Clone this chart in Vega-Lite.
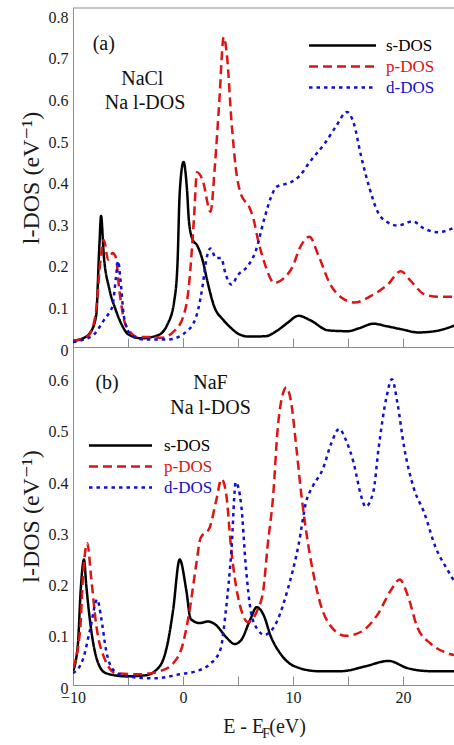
{
  "$schema": "https://vega.github.io/schema/vega-lite/v6.json",
  "padding": {"left": 19, "top": 7, "right": 0, "bottom": 0},
  "background": "white",
  "spacing": 0,
  "bounds": "flush",
  "config": {
    "view": {"stroke": null},
    "font": "Liberation Serif, DejaVu Serif, Liberation Sans, sans-serif",
    "axis": {"grid": false, "labelFlush": false, "domainColor": "#8c8c8c", "tickColor": "#8c8c8c", "domainWidth": 1, "tickWidth": 1, "labelFont": "Liberation Serif, DejaVu Serif, Liberation Sans, sans-serif", "labelFontSize": 16, "labelColor": "#1a1a1a", "titleFont": "Liberation Serif, DejaVu Serif, Liberation Sans, sans-serif", "titleFontWeight": "normal", "titleColor": "#1a1a1a"},
    "legend": {"labelFont": "Liberation Serif, DejaVu Serif, Liberation Sans, sans-serif", "labelFontSize": 17, "padding": 0, "symbolSize": 121, "symbolStrokeWidth": 2.5, "labelOffset": 35, "rowPadding": 3, "labelLimit": 0},
    "text": {"font": "Liberation Serif, DejaVu Serif, Liberation Sans, sans-serif"}
  },
  "resolve": {"legend": {"color": "independent", "strokeDash": "independent"}},
  "datasets": {
    "a": [
      {"o":"s-DOS","E":-10,"v":0.015},{"o":"s-DOS","E":-9,"v":0.022},{"o":"s-DOS","E":-8.4,"v":0.036},{"o":"s-DOS","E":-7.9,"v":0.075},{"o":"s-DOS","E":-7.6,"v":0.245},{"o":"s-DOS","E":-7.45,"v":0.315},{"o":"s-DOS","E":-7.2,"v":0.22},{"o":"s-DOS","E":-6.7,"v":0.14},{"o":"s-DOS","E":-6.1,"v":0.088},{"o":"s-DOS","E":-5.5,"v":0.05},{"o":"s-DOS","E":-5,"v":0.031},{"o":"s-DOS","E":-3.8,"v":0.021},{"o":"s-DOS","E":-2.3,"v":0.028},{"o":"s-DOS","E":-1.4,"v":0.055},{"o":"s-DOS","E":-0.8,"v":0.11},{"o":"s-DOS","E":-0.5,"v":0.2},{"o":"s-DOS","E":-0.3,"v":0.37},{"o":"s-DOS","E":0.05,"v":0.445},{"o":"s-DOS","E":0.36,"v":0.38},{"o":"s-DOS","E":0.55,"v":0.3},{"o":"s-DOS","E":0.9,"v":0.257},{"o":"s-DOS","E":1.27,"v":0.245},{"o":"s-DOS","E":1.8,"v":0.207},{"o":"s-DOS","E":2.2,"v":0.16},{"o":"s-DOS","E":2.8,"v":0.1},{"o":"s-DOS","E":3.7,"v":0.064},{"o":"s-DOS","E":4.4,"v":0.045},{"o":"s-DOS","E":5,"v":0.032},{"o":"s-DOS","E":6,"v":0.025},{"o":"s-DOS","E":7.5,"v":0.026},{"o":"s-DOS","E":8.6,"v":0.04},{"o":"s-DOS","E":9.5,"v":0.058},{"o":"s-DOS","E":10.5,"v":0.075},{"o":"s-DOS","E":11.6,"v":0.064},{"o":"s-DOS","E":13.2,"v":0.04},{"o":"s-DOS","E":15,"v":0.038},{"o":"s-DOS","E":16,"v":0.045},{"o":"s-DOS","E":17.3,"v":0.056},{"o":"s-DOS","E":18.5,"v":0.05},{"o":"s-DOS","E":19.8,"v":0.043},{"o":"s-DOS","E":21.4,"v":0.035},{"o":"s-DOS","E":22.9,"v":0.038},{"o":"s-DOS","E":24.73,"v":0.052},
      {"o":"p-DOS","E":-10,"v":0.015},{"o":"p-DOS","E":-9,"v":0.022},{"o":"p-DOS","E":-8.5,"v":0.03},{"o":"p-DOS","E":-7.9,"v":0.088},{"o":"p-DOS","E":-7.5,"v":0.21},{"o":"p-DOS","E":-7.2,"v":0.257},{"o":"p-DOS","E":-6.8,"v":0.21},{"o":"p-DOS","E":-6.4,"v":0.226},{"o":"p-DOS","E":-6.1,"v":0.215},{"o":"p-DOS","E":-5.8,"v":0.14},{"o":"p-DOS","E":-5.2,"v":0.052},{"o":"p-DOS","E":-4.1,"v":0.024},{"o":"p-DOS","E":-2.6,"v":0.024},{"o":"p-DOS","E":-2,"v":0.022},{"o":"p-DOS","E":-0.9,"v":0.036},{"o":"p-DOS","E":0,"v":0.071},{"o":"p-DOS","E":0.55,"v":0.15},{"o":"p-DOS","E":1,"v":0.31},{"o":"p-DOS","E":1.27,"v":0.42},{"o":"p-DOS","E":1.8,"v":0.4},{"o":"p-DOS","E":2.5,"v":0.325},{"o":"p-DOS","E":2.9,"v":0.435},{"o":"p-DOS","E":3.3,"v":0.59},{"o":"p-DOS","E":3.7,"v":0.745},{"o":"p-DOS","E":4,"v":0.7},{"o":"p-DOS","E":4.4,"v":0.546},{"o":"p-DOS","E":4.8,"v":0.43},{"o":"p-DOS","E":5.3,"v":0.365},{"o":"p-DOS","E":6,"v":0.338},{"o":"p-DOS","E":6.4,"v":0.309},{"o":"p-DOS","E":6.8,"v":0.26},{"o":"p-DOS","E":7.5,"v":0.195},{"o":"p-DOS","E":8.3,"v":0.154},{"o":"p-DOS","E":9.2,"v":0.166},{"o":"p-DOS","E":10,"v":0.195},{"o":"p-DOS","E":10.6,"v":0.237},{"o":"p-DOS","E":11.5,"v":0.265},{"o":"p-DOS","E":12.3,"v":0.221},{"o":"p-DOS","E":13.4,"v":0.15},{"o":"p-DOS","E":14.4,"v":0.119},{"o":"p-DOS","E":15.6,"v":0.107},{"o":"p-DOS","E":17.1,"v":0.123},{"o":"p-DOS","E":18.6,"v":0.15},{"o":"p-DOS","E":19.8,"v":0.182},{"o":"p-DOS","E":20.7,"v":0.159},{"o":"p-DOS","E":22,"v":0.126},{"o":"p-DOS","E":23.2,"v":0.121},{"o":"p-DOS","E":24.73,"v":0.121},
      {"o":"d-DOS","E":-10,"v":0.012},{"o":"d-DOS","E":-9,"v":0.018},{"o":"d-DOS","E":-8.1,"v":0.03},{"o":"d-DOS","E":-7.2,"v":0.064},{"o":"d-DOS","E":-6.7,"v":0.083},{"o":"d-DOS","E":-6.4,"v":0.1},{"o":"d-DOS","E":-6.1,"v":0.166},{"o":"d-DOS","E":-5.9,"v":0.207},{"o":"d-DOS","E":-5.7,"v":0.166},{"o":"d-DOS","E":-5.35,"v":0.07},{"o":"d-DOS","E":-4.7,"v":0.028},{"o":"d-DOS","E":-3.5,"v":0.018},{"o":"d-DOS","E":-1.4,"v":0.018},{"o":"d-DOS","E":0.45,"v":0.04},{"o":"d-DOS","E":1.36,"v":0.088},{"o":"d-DOS","E":1.8,"v":0.15},{"o":"d-DOS","E":2.1,"v":0.207},{"o":"d-DOS","E":2.5,"v":0.237},{"o":"d-DOS","E":3,"v":0.214},{"o":"d-DOS","E":3.45,"v":0.214},{"o":"d-DOS","E":3.9,"v":0.173},{"o":"d-DOS","E":4.4,"v":0.15},{"o":"d-DOS","E":5,"v":0.173},{"o":"d-DOS","E":5.9,"v":0.195},{"o":"d-DOS","E":6.6,"v":0.23},{"o":"d-DOS","E":7.4,"v":0.309},{"o":"d-DOS","E":8,"v":0.36},{"o":"d-DOS","E":8.5,"v":0.385},{"o":"d-DOS","E":9.8,"v":0.396},{"o":"d-DOS","E":10.6,"v":0.411},{"o":"d-DOS","E":11.5,"v":0.444},{"o":"d-DOS","E":12.9,"v":0.49},{"o":"d-DOS","E":13.9,"v":0.53},{"o":"d-DOS","E":14.9,"v":0.565},{"o":"d-DOS","E":15.5,"v":0.54},{"o":"d-DOS","E":16.2,"v":0.458},{"o":"d-DOS","E":16.9,"v":0.387},{"o":"d-DOS","E":17.7,"v":0.325},{"o":"d-DOS","E":18.6,"v":0.3},{"o":"d-DOS","E":19.5,"v":0.292},{"o":"d-DOS","E":20.9,"v":0.302},{"o":"d-DOS","E":21.9,"v":0.285},{"o":"d-DOS","E":23.2,"v":0.276},{"o":"d-DOS","E":24.73,"v":0.288}
    ],
    "b": [
      {"o":"s-DOS","E":-10,"v":0.027},{"o":"s-DOS","E":-9.55,"v":0.081},{"o":"s-DOS","E":-9.3,"v":0.185},{"o":"s-DOS","E":-9,"v":0.245},{"o":"s-DOS","E":-8.8,"v":0.196},{"o":"s-DOS","E":-8.35,"v":0.108},{"o":"s-DOS","E":-7.7,"v":0.042},{"o":"s-DOS","E":-7,"v":0.023},{"o":"s-DOS","E":-5.2,"v":0.017},{"o":"s-DOS","E":-3.4,"v":0.019},{"o":"s-DOS","E":-2.1,"v":0.037},{"o":"s-DOS","E":-1.4,"v":0.081},{"o":"s-DOS","E":-0.9,"v":0.146},{"o":"s-DOS","E":-0.3,"v":0.245},{"o":"s-DOS","E":0.3,"v":0.185},{"o":"s-DOS","E":0.7,"v":0.129},{"o":"s-DOS","E":1.5,"v":0.121},{"o":"s-DOS","E":2.3,"v":0.124},{"o":"s-DOS","E":3,"v":0.117},{"o":"s-DOS","E":3.9,"v":0.094},{"o":"s-DOS","E":4.7,"v":0.08},{"o":"s-DOS","E":5.3,"v":0.088},{"o":"s-DOS","E":6.1,"v":0.127},{"o":"s-DOS","E":6.7,"v":0.152},{"o":"s-DOS","E":7.3,"v":0.138},{"o":"s-DOS","E":8,"v":0.094},{"o":"s-DOS","E":8.9,"v":0.06},{"o":"s-DOS","E":10.1,"v":0.037},{"o":"s-DOS","E":12.3,"v":0.027},{"o":"s-DOS","E":14.4,"v":0.027},{"o":"s-DOS","E":16.5,"v":0.036},{"o":"s-DOS","E":18.7,"v":0.047},{"o":"s-DOS","E":20.4,"v":0.033},{"o":"s-DOS","E":22.5,"v":0.027},{"o":"s-DOS","E":24.73,"v":0.027},
      {"o":"p-DOS","E":-10,"v":0.033},{"o":"p-DOS","E":-9.35,"v":0.108},{"o":"p-DOS","E":-9.1,"v":0.21},{"o":"p-DOS","E":-8.7,"v":0.277},{"o":"p-DOS","E":-8.35,"v":0.21},{"o":"p-DOS","E":-7.9,"v":0.119},{"o":"p-DOS","E":-7.1,"v":0.05},{"o":"p-DOS","E":-6.1,"v":0.023},{"o":"p-DOS","E":-3.9,"v":0.021},{"o":"p-DOS","E":-2.1,"v":0.027},{"o":"p-DOS","E":-0.9,"v":0.042},{"o":"p-DOS","E":0,"v":0.081},{"o":"p-DOS","E":0.6,"v":0.146},{"o":"p-DOS","E":1.2,"v":0.235},{"o":"p-DOS","E":1.6,"v":0.287},{"o":"p-DOS","E":2.4,"v":0.306},{"o":"p-DOS","E":3,"v":0.358},{"o":"p-DOS","E":3.5,"v":0.402},{"o":"p-DOS","E":3.9,"v":0.377},{"o":"p-DOS","E":4.4,"v":0.262},{"o":"p-DOS","E":4.8,"v":0.196},{"o":"p-DOS","E":5.3,"v":0.146},{"o":"p-DOS","E":5.9,"v":0.123},{"o":"p-DOS","E":6.8,"v":0.148},{"o":"p-DOS","E":7.3,"v":0.185},{"o":"p-DOS","E":7.7,"v":0.273},{"o":"p-DOS","E":8.2,"v":0.37},{"o":"p-DOS","E":8.6,"v":0.498},{"o":"p-DOS","E":9.1,"v":0.57},{"o":"p-DOS","E":9.4,"v":0.581},{"o":"p-DOS","E":9.8,"v":0.556},{"o":"p-DOS","E":10.3,"v":0.465},{"o":"p-DOS","E":10.7,"v":0.383},{"o":"p-DOS","E":11.2,"v":0.3},{"o":"p-DOS","E":11.8,"v":0.223},{"o":"p-DOS","E":12.5,"v":0.158},{"o":"p-DOS","E":13.5,"v":0.113},{"o":"p-DOS","E":14.8,"v":0.096},{"o":"p-DOS","E":16.2,"v":0.104},{"o":"p-DOS","E":17.7,"v":0.138},{"o":"p-DOS","E":18.9,"v":0.185},{"o":"p-DOS","E":19.7,"v":0.206},{"o":"p-DOS","E":20.4,"v":0.177},{"o":"p-DOS","E":21.3,"v":0.113},{"o":"p-DOS","E":22.5,"v":0.081},{"o":"p-DOS","E":23.7,"v":0.065},{"o":"p-DOS","E":24.73,"v":0.058},
      {"o":"d-DOS","E":-10,"v":0.023},{"o":"d-DOS","E":-9.1,"v":0.05},{"o":"d-DOS","E":-8.45,"v":0.108},{"o":"d-DOS","E":-7.8,"v":0.167},{"o":"d-DOS","E":-7.45,"v":0.133},{"o":"d-DOS","E":-7,"v":0.069},{"o":"d-DOS","E":-6.4,"v":0.031},{"o":"d-DOS","E":-5.2,"v":0.017},{"o":"d-DOS","E":-2.5,"v":0.013},{"o":"d-DOS","E":-0.3,"v":0.021},{"o":"d-DOS","E":1.2,"v":0.027},{"o":"d-DOS","E":2.4,"v":0.04},{"o":"d-DOS","E":3.4,"v":0.069},{"o":"d-DOS","E":3.9,"v":0.146},{"o":"d-DOS","E":4.4,"v":0.262},{"o":"d-DOS","E":4.8,"v":0.396},{"o":"d-DOS","E":5.3,"v":0.35},{"o":"d-DOS","E":5.7,"v":0.235},{"o":"d-DOS","E":6.2,"v":0.14},{"o":"d-DOS","E":6.8,"v":0.108},{"o":"d-DOS","E":7.4,"v":0.098},{"o":"d-DOS","E":8.6,"v":0.127},{"o":"d-DOS","E":9.5,"v":0.185},{"o":"d-DOS","E":10.5,"v":0.273},{"o":"d-DOS","E":11.2,"v":0.358},{"o":"d-DOS","E":11.8,"v":0.388},{"o":"d-DOS","E":12.7,"v":0.421},{"o":"d-DOS","E":13.5,"v":0.473},{"o":"d-DOS","E":14.2,"v":0.5},{"o":"d-DOS","E":14.8,"v":0.479},{"o":"d-DOS","E":15.5,"v":0.435},{"o":"d-DOS","E":16.2,"v":0.369},{"o":"d-DOS","E":16.6,"v":0.348},{"o":"d-DOS","E":17.3,"v":0.377},{"o":"d-DOS","E":17.8,"v":0.465},{"o":"d-DOS","E":18.5,"v":0.562},{"o":"d-DOS","E":19,"v":0.597},{"o":"d-DOS","E":19.5,"v":0.55},{"o":"d-DOS","E":20.1,"v":0.465},{"o":"d-DOS","E":21,"v":0.383},{"o":"d-DOS","E":21.9,"v":0.338},{"o":"d-DOS","E":23,"v":0.267},{"o":"d-DOS","E":24.1,"v":0.223},{"o":"d-DOS","E":24.73,"v":0.2}
    ]
  },
  "vconcat": [
    {
      "width": 382,
      "height": 339,
      "data": {"name": "a"},
      "layer": [
        {
          "mark": {"type": "line", "interpolate": "monotone", "strokeWidth": 2.5, "clip": true},
          "encoding": {
            "x": {"field": "E", "type": "quantitative", "scale": {"domain": [-10, 24.73], "nice": false, "zero": false},
                  "axis": {"values": [-10, -7.5, -5, -2.5, 0, 2.5, 5, 7.5, 10, 12.5, 15, 17.5, 20, 22.5], "tickSize": -9, "labels": false, "title": null}},
            "y": {"field": "v", "type": "quantitative", "scale": {"domain": [0, 0.815], "nice": false, "zero": false},
                  "axis": {"values": [0, 0.1, 0.2, 0.3, 0.4, 0.5, 0.6, 0.7, 0.8], "labelExpr": "datum.value === 0 ? '0' : format(datum.value, '.1f')", "tickSize": 0, "labelPadding": 5, "labelOffset": 3, "title": "l-DOS (eV⁻¹)", "titleFontSize": 24, "titlePadding": 5}},
            "color": {"field": "o", "type": "nominal", "scale": {"domain": ["s-DOS", "p-DOS", "d-DOS"], "range": ["#000000", "#dc1414", "#1111cc"]},
                      "legend": {"orient": "none", "legendX": 261, "legendY": 29, "title": null, "symbolType": "M-6.09,0H6.09", "encode": {"labels": {"update": {"fill": {"signal": "datum.value === 's-DOS' ? '#000000' : datum.value === 'p-DOS' ? '#dc1414' : '#1111cc'"}}}}}},
            "strokeDash": {"field": "o", "type": "nominal", "scale": {"domain": ["s-DOS", "p-DOS", "d-DOS"], "range": [[1, 0], [9, 5], [3.5, 4]]},
                      "legend": {"orient": "none", "legendX": 261, "legendY": 29, "title": null, "symbolType": "M-6.09,0H6.09", "encode": {"labels": {"update": {"fill": {"signal": "datum.value === 's-DOS' ? '#000000' : datum.value === 'p-DOS' ? '#dc1414' : '#1111cc'"}}}}}}
          }
        },
        {
          "data": {"values": [{"y": 0.815}]},
          "mark": {"type": "rule", "color": "#8c8c8c", "strokeWidth": 1},
          "encoding": {"y": {"field": "y", "type": "quantitative"}}
        },
        {
          "data": {"values": [{"t": "(a)", "E": -7.2, "v": 0.729}, {"t": "NaCl", "E": -3.7, "v": 0.644}, {"t": "Na l-DOS", "E": -3.45, "v": 0.587}]},
          "mark": {"type": "text", "fontSize": 20, "color": "#111111", "align": "center", "baseline": "middle"},
          "encoding": {"x": {"field": "E", "type": "quantitative"}, "y": {"field": "v", "type": "quantitative"}, "text": {"field": "t"}}
        }
      ]
    },
    {
      "width": 382,
      "height": 338,
      "data": {"name": "b"},
      "layer": [
        {
          "mark": {"type": "line", "interpolate": "monotone", "strokeWidth": 2.5, "clip": true},
          "encoding": {
            "x": {"field": "E", "type": "quantitative", "scale": {"domain": [-10, 24.73], "nice": false, "zero": false},
                  "axis": {"values": [-10, -7.5, -5, -2.5, 0, 2.5, 5, 7.5, 10, 12.5, 15, 17.5, 20, 22.5], "tickSize": -9, "labelExpr": "datum.value % 10 === 0 ? datum.label : ''", "labelPadding": 13, "title": "E - E   (eV)", "titleFontSize": 20, "titlePadding": 11}},
            "y": {"field": "v", "type": "quantitative", "scale": {"domain": [0, 0.66], "nice": false, "zero": false},
                  "axis": {"values": [0, 0.1, 0.2, 0.3, 0.4, 0.5, 0.6], "labelExpr": "datum.value === 0 ? '0' : format(datum.value, '.1f')", "tickSize": 0, "labelPadding": 5, "labelOffset": 3, "title": "l-DOS (eV⁻¹)", "titleFontSize": 24, "titlePadding": 5}},
            "color": {"field": "o", "type": "nominal", "scale": {"domain": ["s-DOS", "p-DOS", "d-DOS"], "range": ["#000000", "#dc1414", "#1111cc"]},
                      "legend": {"orient": "none", "legendX": 39, "legendY": 90, "title": null, "symbolType": "M-5.73,0H5.73", "encode": {"labels": {"update": {"fill": {"signal": "datum.value === 's-DOS' ? '#000000' : datum.value === 'p-DOS' ? '#dc1414' : '#1111cc'"}}}}}},
            "strokeDash": {"field": "o", "type": "nominal", "scale": {"domain": ["s-DOS", "p-DOS", "d-DOS"], "range": [[1, 0], [9, 5], [3.5, 4]]},
                      "legend": {"orient": "none", "legendX": 39, "legendY": 90, "title": null, "symbolType": "M-5.73,0H5.73", "encode": {"labels": {"update": {"fill": {"signal": "datum.value === 's-DOS' ? '#000000' : datum.value === 'p-DOS' ? '#dc1414' : '#1111cc'"}}}}}}
          }
        },
        {
          "data": {"values": [{"t": "(b)", "E": -6.9, "v": 0.59}, {"t": "NaF", "E": 2.5, "v": 0.59}, {"t": "Na l-DOS", "E": 2.5, "v": 0.54}]},
          "mark": {"type": "text", "fontSize": 20, "color": "#111111", "align": "center", "baseline": "middle"},
          "encoding": {"x": {"field": "E", "type": "quantitative"}, "y": {"field": "v", "type": "quantitative"}, "text": {"field": "t"}}
        },
        {
          "data": {"values": [{"t": "F", "E": 7.2, "v": -0.095}]},
          "mark": {"type": "text", "fontSize": 14, "color": "#1a1a1a", "align": "left", "baseline": "middle"},
          "encoding": {"x": {"field": "E", "type": "quantitative"}, "y": {"field": "v", "type": "quantitative"}, "text": {"field": "t"}}
        }
      ]
    }
  ]
}
